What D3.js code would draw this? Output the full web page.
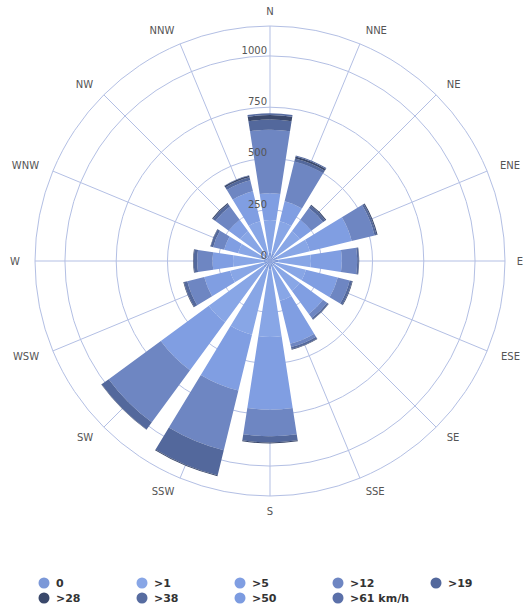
<!DOCTYPE html>
<html>
<head>
<meta charset="utf-8">
<script src="https://cdn.jsdelivr.net/npm/d3@7"></script>
<style>
  html, body { margin: 0; padding: 0; background: #fff; }
  svg { display: block; }
</style>
</head>
<body>
<svg id="chart" width="524" height="610"></svg>
<script>
// ---- Data ----
const directions = ["N","NNE","NE","ENE","E","ESE","SE","SSE","S","SSW","SW","WSW","W","WNW","NW","NNW"];
const seriesNames = ["0", ">1", ">5", ">12", ">19", ">28", ">38", ">50", ">61 km/h"];
const seriesColors = ["#7b98d8", "#88a6e6", "#809ee2", "#6e86c2", "#53689c", "#3a486b", "#576ca0", "#7c9be0", "#5b70a9"];
const s0   = [40, 40, 30, 40, 40, 30, 30, 30, 40, 40, 40, 30, 30, 30, 30, 30];
const s1   = [160,160,150,160,160,150,150,170,330,330,330,170,150,130,150,170];
const s5   = [130,100, 70,210,150,160,140,215,355,280,290,130,100, 70, 70,150];
const s12  = [310,200, 70,115, 75, 60, 25, 17,130,300,315, 85, 75, 55, 80, 55];
const s19  = [ 50, 15, 15, 10,  8, 12,  8, 10, 30,125, 43, 17, 17, 13, 15, 15];
const s28  = [ 22, 10,  5,  5,  2,  3,  2,  3,  5,  5,  2,  3,  3,  2,  5,  8];
const s38  = [  8,  5,  0,  0,  0,  0,  0,  0,  0,  0,  0,  0,  0,  0,  0,  2];
const s50  = [  0,  0,  0,  0,  0,  0,  0,  0,  0,  0,  0,  0,  0,  0,  0,  0];
const s61  = [  0,  0,  0,  0,  0,  0,  0,  0,  0,  0,  0,  0,  0,  0,  0,  0];
const seriesValues = [s0, s1, s5, s12, s19, s28, s38, s50, s61];
const radialTicks = [0, 250, 500, 750, 1000];
const radialMax = 1146;

// ---- Layout ----
const cx = 270, cy = 261, outerR = 235;
const svg = d3.select("#chart");
const g = svg.append("g").attr("transform", `translate(${cx},${cy})`);
const r = d3.scaleLinear().domain([0, radialMax]).range([0, outerR]);
const step = 2 * Math.PI / directions.length;
const angle = d3.scaleBand().domain(directions).range([-step/2, 2*Math.PI - step/2]);
const gridColor = "#b3bfe4";

// grid circles
g.append("g").selectAll("circle")
  .data(radialTicks.filter(d => d > 0).concat([radialMax]))
  .join("circle")
  .attr("r", d => r(d))
  .attr("fill", "none")
  .attr("stroke", gridColor)
  .attr("stroke-width", 1);

// spokes
g.append("g").selectAll("line")
  .data(directions)
  .join("line")
  .attr("x1", 0).attr("y1", 0)
  .attr("x2", d => outerR * Math.sin(angle(d) + step/2))
  .attr("y2", d => -outerR * Math.cos(angle(d) + step/2))
  .attr("stroke", gridColor)
  .attr("stroke-width", 1);

// stacked data
const table = directions.map((d, i) => {
  const o = { dir: d };
  seriesNames.forEach((s, k) => o[s] = seriesValues[k][i]);
  return o;
});
const stacked = d3.stack().keys(seriesNames)(table);

const pad = step * 0.11;
const arc = d3.arc()
  .innerRadius(d => r(d[0]))
  .outerRadius(d => r(d[1]))
  .startAngle(d => angle(d.data.dir) + pad)
  .endAngle(d => angle(d.data.dir) + step - pad);

g.append("g").selectAll("g")
  .data(stacked)
  .join("g")
  .attr("fill", (d, k) => seriesColors[k])
  .selectAll("path")
  .data(d => d.filter(p => p[1] > p[0]))
  .join("path")
  .attr("d", arc);

// radial tick labels
g.append("g").selectAll("text")
  .data(radialTicks)
  .join("text")
  .attr("x", -3)
  .attr("y", d => -r(d) - 2)
  .attr("text-anchor", "end")
  .attr("font-family", "DejaVu Sans, sans-serif")
  .attr("font-size", 10)
  .attr("fill", "#555")
  .text(d => d);

// direction labels
const labR = 250;
g.append("g").selectAll("text")
  .data(directions)
  .join("text")
  .attr("font-family", "DejaVu Sans, sans-serif")
  .attr("font-size", 10)
  .attr("fill", "#555")
  .text(d => d)
  .each(function(d) {
    const a = angle(d) + step/2;
    const deg = a * 180 / Math.PI;
    let anchor = "middle";
    if (deg > 15 && deg < 165) anchor = "start";
    else if (deg > 195 && deg < 345) anchor = "end";
    let x = labR * Math.sin(a);
    const y = -labR * Math.cos(a);
    const w = this.getComputedTextLength();
    const horizontal = Math.abs(Math.cos(a)) < 0.1;
    const rightLimit = horizontal ? 523 : 520;
    if (anchor === "start" && cx + x + w > rightLimit) x = rightLimit - cx - w;
    if (anchor === "end" && !horizontal && cx + x - w < 10) x = 10 - cx + w;
    d3.select(this)
      .attr("x", x)
      .attr("y", y)
      .attr("text-anchor", anchor)
      .attr("dominant-baseline", "central");
  });

// legend
const legend = svg.append("g");
const items = legend.selectAll("g")
  .data(seriesNames)
  .join("g")
  .attr("transform", (d, i) => `translate(${44 + (i % 5) * 98},${583 + Math.floor(i / 5) * 15})`);
items.append("circle").attr("r", 5.5).attr("fill", (d, i) => seriesColors[i]);
items.append("text")
  .attr("x", 12).attr("y", 0)
  .attr("dominant-baseline", "central")
  .attr("font-family", "DejaVu Sans, sans-serif")
  .attr("font-size", 11)
  .attr("font-weight", "bold")
  .attr("fill", "#333")
  .text(d => d);
</script>
</body>
</html>
